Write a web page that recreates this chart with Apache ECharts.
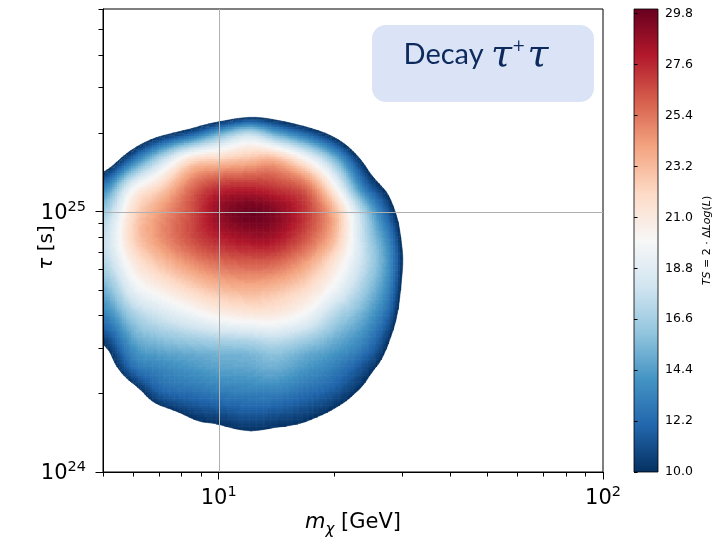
<!DOCTYPE html>
<html>
<head>
<meta charset="utf-8">
<script src="https://cdn.jsdelivr.net/npm/echarts@6/dist/echarts.min.js"></script>
<style>
html,body{margin:0;padding:0;background:#fff;}
#chart{width:712px;height:538px;}
</style>
</head>
<body>
<div id="chart"></div>
<script>
// ---------------- data ----------------
// dark-matter mass grid [GeV] (columns)
const massGeV = [5, 6, 7, 8.5, 10, 12, 14, 17, 20, 24, 28, 33];
// lifetime grid [s] (rows, bottom to top)
const lifetimeS = [1.2e24, 1.5e24, 2e24, 2.5e24, 3e24, 4e24, 5e24, 6.5e24, 8e24, 1e25, 1.25e25, 1.6e25, 2e25, 2.5e25, 3e25];
// TS = 2·ΔLog(L), one row per lifetime, one value per mass (values below 10 are not drawn)
const tsRows = [
  [-0.4, 3.5, 5.8, 7.2, 7.7, 7.9, 7.75, 7.2, 5.8, 3.8, 0.2, -2.6],
  [-0.3, 5.3, 7.0, 9.3, 9.86, 10.5, 10.15, 9.6, 8.3, 6.0, 2.95, -2.6],
  [4.0, 8.5, 11.5, 12.3, 12.8, 13, 13, 12.2, 11.3, 9.1, 5.5, 0.9],
  [7.9, 12.2, 13.3, 14, 14.5, 14.7, 15, 14, 13, 11, 8.0, 2.9],
  [9.7, 14, 15, 15.5, 15.8, 16, 16.5, 15.5, 14.5, 12.8, 9.35, 3.0],
  [13, 16.5, 18, 19.3, 20.3, 20.8, 20.8, 19.5, 17, 14.8, 11.5, 4.65],
  [15, 19, 20.5, 22, 23, 23.4, 23, 21.7, 19.5, 16.3, 12.8, 5.2],
  [17, 21, 23, 24.8, 25.8, 26.2, 26, 24.2, 21.4, 17.5, 13.5, 6.1],
  [17.5, 22.3, 24.5, 26.5, 27.8, 28.5, 28.3, 26.2, 23.2, 17.3, 12.8, 5.5],
  [16.3, 21.8, 24.2, 26.5, 28.8, 29.8, 29.2, 27, 23.4, 16.5, 11, 5.4],
  [13, 19.5, 22, 25.5, 27.2, 27.5, 27, 25.5, 20.3, 12.7, 8.6, 3],
  [7, 12.5, 17, 21.5, 22.3, 23, 23.3, 20, 15.5, 9.0, 4.7, 0.4],
  [2.4, 6.0, 8.8, 11.8, 15, 17.5, 15, 12, 8.8, 3.8, -0.6, -6],
  [-2.7, -0.3, -0.8, 2.2, 3.65, 5.5, 5.6, 3.7, 1.7, -2.8, -6, -10],
  [-12, -10, -8.8, -5.8, -5.5, -3.4, -2.5, -3, -4, -8, -12, -15]
];
// axis ranges and ticks
const xRange = [5, 100];
const yRange = [1e24, 6e25];
const majorX = [10, 100];
const minorX = [5, 6, 7, 8, 9, 20, 30, 40, 50, 60, 70, 80, 90];
const majorY = [1e24, 1e25];
const minorY = [2e24, 3e24, 4e24, 5e24, 6e24, 7e24, 8e24, 9e24, 2e25, 3e25, 4e25, 5e25, 6e25];
const colorbarRange = [10, 30];
const colorbarTicks = [10.0, 12.2, 14.4, 16.6, 18.8, 21.0, 23.2, 25.4, 27.6, 29.8];

// ---------------- colour map (RdBu_r) ----------------
const RDBU_R = ['#053061','#2166ac','#4393c3','#92c5de','#d1e5f0','#f7f7f7','#fddbc7','#f4a582','#d6604d','#b2182b','#67001f'];
const LEVEL_MIN = 10, LEVEL_MAX = 30, LEVEL_STEP = 0.2;
function hexToRgb(h){return [parseInt(h.slice(1,3),16),parseInt(h.slice(3,5),16),parseInt(h.slice(5,7),16)];}
const STOPS = RDBU_R.map(hexToRgb);
function cmap(t){
  t = Math.max(0, Math.min(1, t));
  const s = t * (STOPS.length - 1);
  let i = Math.floor(s); if (i >= STOPS.length - 1) i = STOPS.length - 2;
  const f = s - i, a = STOPS[i], b = STOPS[i + 1];
  return 'rgb(' + Math.round(a[0] + (b[0]-a[0])*f) + ',' + Math.round(a[1] + (b[1]-a[1])*f) + ',' + Math.round(a[2] + (b[2]-a[2])*f) + ')';
}
const NB = Math.round((LEVEL_MAX - LEVEL_MIN) / LEVEL_STEP);
const bandColors = [];
for (let k = 0; k < NB; k++) bandColors.push(cmap((k + 0.5) / NB));
function colorFor(v){
  let k = Math.floor((v - LEVEL_MIN) / LEVEL_STEP + 1e-9);
  k = Math.max(0, Math.min(NB - 1, k));
  return bandColors[k];
}

// ---------------- smooth (Catmull-Rom) rendering of the TS grid ----------------
const NR = tsRows.length, NC = massGeV.length;
function tsNode(r, c){
  r = Math.max(0, Math.min(NR - 1, r));
  c = Math.max(0, Math.min(NC - 1, c));
  return tsRows[r][c];
}
function cr(p0, p1, p2, p3, t){
  return 0.5 * (2*p1 + (-p0 + p2)*t + (2*p0 - 5*p1 + 4*p2 - p3)*t*t + (-p0 + 3*p1 - 3*p2 + p3)*t*t*t);
}
function tsSmooth(c, r, u, w){
  const col = [];
  for (let dr = -1; dr <= 2; dr++) {
    col.push(cr(tsNode(r+dr, c-1), tsNode(r+dr, c), tsNode(r+dr, c+1), tsNode(r+dr, c+2), u));
  }
  return cr(col[0], col[1], col[2], col[3], w);
}

// one item per grid cell: [m0, m1, tau0, tau1, colIndex, rowIndex]
const cells = [];
for (let r = 0; r < NR - 1; r++) {
  for (let c = 0; c < NC - 1; c++) {
    cells.push([massGeV[c], massGeV[c+1], lifetimeS[r], lifetimeS[r+1], c, r]);
  }
}
const SUB_PX = 2.5;
function renderCell(params, api){
  const x0 = api.value(0), x1 = api.value(1), y0 = api.value(2), y1 = api.value(3);
  const c = api.value(4), r = api.value(5);
  const pA = api.coord([x0, y0]), pB = api.coord([x1, y1]);
  const W = pB[0] - pA[0], H = pB[1] - pA[1];
  const nx = Math.max(1, Math.ceil(Math.abs(W) / SUB_PX));
  const ny = Math.max(1, Math.ceil(Math.abs(H) / SUB_PX));
  const val = [];
  let vmax = -Infinity;
  for (let i = 0; i <= nx; i++) {
    val.push([]);
    for (let j = 0; j <= ny; j++) { const s = tsSmooth(c, r, i/nx, j/ny); val[i].push(s); if (s > vmax) vmax = s; }
  }
  if (vmax < LEVEL_MIN) return null;
  const children = [];
  for (let i = 0; i < nx; i++) {
    for (let j = 0; j < ny; j++) {
      const u0 = i/nx, u1 = (i+1)/nx, w0 = j/ny, w1 = (j+1)/ny;
      const q = [[u0,w0],[u1,w0],[u1,w1],[u0,w1]];
      const qv = [val[i][j], val[i+1][j], val[i+1][j+1], val[i][j+1]];
      let nIn = 0; qv.forEach(x => { if (x >= LEVEL_MIN) nIn++; });
      if (nIn === 0) continue;
      const vc = (qv[0] + qv[1] + qv[2] + qv[3]) / 4;
      if (nIn === 4) {
        children.push({type:'rect', shape:{x: pA[0] + u0*W, y: pA[1] + w1*H, width: W/nx + 0.6, height: -H/ny + 0.6},
          style:{fill: colorFor(vc)}});
      } else {
        const pts = [];
        for (let k = 0; k < 4; k++) {
          const P = q[k], Q = q[(k+1)%4], vp = qv[k], vq = qv[(k+1)%4];
          if (vp >= LEVEL_MIN) pts.push([pA[0] + P[0]*W, pA[1] + P[1]*H]);
          if ((vp >= LEVEL_MIN) !== (vq >= LEVEL_MIN)) {
            const t = (LEVEL_MIN - vp) / (vq - vp);
            const uu = P[0] + t*(Q[0]-P[0]), ww = P[1] + t*(Q[1]-P[1]);
            pts.push([pA[0] + uu*W, pA[1] + ww*H]);
          }
        }
        const col = colorFor(Math.max(vc, LEVEL_MIN));
        children.push({type:'polygon', shape:{points: pts}, style:{fill: col, stroke: col, lineWidth: 0.5}});
      }
    }
  }
  return {type:'group', children: children};
}

// ---------------- styles ----------------
const FONT = 'DejaVu Sans';
const supRich = {
  b: {fontFamily: FONT, fontSize: 21, color: '#000', verticalAlign: 'bottom'},
  s: {fontFamily: FONT, fontSize: 14.5, color: '#000', verticalAlign: 'bottom', padding: [0, 0, 9, 0]}
};
const powLabel = v => '{b|10}{s|' + Math.round(Math.log10(v)) + '}';

const chart = echarts.init(document.getElementById('chart'), null, {renderer: 'canvas'});
chart.setOption({
  animation: false,
  backgroundColor: '#fff',
  textStyle: {fontFamily: FONT},
  grid: [
    {left: 103, top: 9, width: 500, height: 463, show: true, borderColor: '#000', borderWidth: 1, backgroundColor: 'transparent', outerBoundsMode: 'none'},
    {left: 634, top: 9, width: 24, height: 463, show: false, outerBoundsMode: 'none'}
  ],
  xAxis: [
    {type: 'log', gridIndex: 0, min: xRange[0], max: xRange[1], position: 'bottom', z: 10,
     axisLine: {show: true, onZero: false, lineStyle: {color: '#000', width: 1}},
     axisTick: {show: true, customValues: majorX, length: 7.5, lineStyle: {color: '#000', width: 1}},
     axisLabel: {show: true, customValues: majorX, formatter: powLabel, rich: supRich, margin: 13},
     splitLine: {show: false}, minorTick: {show: false},
     name: '{i|m}{sub|χ}{n| [GeV]}', nameLocation: 'middle', nameGap: 40, nameMoveOverlap: false,
     nameTextStyle: {rich: {
       i: {fontFamily: FONT, fontStyle: 'italic', fontSize: 21, color: '#000', verticalAlign: 'bottom', padding: [0,0,5,0]},
       sub: {fontFamily: FONT, fontStyle: 'italic', fontSize: 15, color: '#000', verticalAlign: 'bottom'},
       n: {fontFamily: FONT, fontSize: 21, color: '#000', verticalAlign: 'bottom', padding: [0,0,5,0]}
     }}},
    {type: 'log', gridIndex: 0, min: xRange[0], max: xRange[1], position: 'bottom', z: 10,
     axisLine: {show: false},
     axisTick: {show: true, customValues: minorX, length: 4.5, lineStyle: {color: '#000', width: 1}},
     axisLabel: {show: false}, splitLine: {show: false}},
    {type: 'value', gridIndex: 1, min: 0, max: 1, show: false}
  ],
  yAxis: [
    {type: 'log', gridIndex: 0, min: yRange[0], max: yRange[1], position: 'left', z: 10,
     axisLine: {show: true, onZero: false, lineStyle: {color: '#000', width: 1}},
     axisTick: {show: true, customValues: majorY, length: 7.5, lineStyle: {color: '#000', width: 1}},
     axisLabel: {show: true, customValues: majorY, formatter: powLabel, rich: supRich, margin: 17},
     splitLine: {show: false}, minorTick: {show: false},
     name: '{i|τ}{n| [s]}', nameLocation: 'middle', nameGap: 46, nameRotate: 90, nameMoveOverlap: false,
     nameTextStyle: {rich: {
       i: {fontFamily: FONT, fontStyle: 'italic', fontSize: 20, color: '#000'},
       n: {fontFamily: FONT, fontSize: 20, color: '#000', padding: [0, 14, 0, 0]}
     }}},
    {type: 'log', gridIndex: 0, min: yRange[0], max: yRange[1], position: 'left', z: 10,
     axisLine: {show: false},
     axisTick: {show: true, customValues: minorY, length: 4.5, lineStyle: {color: '#000', width: 1}},
     axisLabel: {show: false}, splitLine: {show: false}},
    {type: 'value', gridIndex: 1, min: colorbarRange[0], max: colorbarRange[1], position: 'right', z: 10,
     axisLine: {show: false},
     axisTick: {show: true, customValues: colorbarTicks, length: 3.5, lineStyle: {color: '#000', width: 1}},
     axisLabel: {show: true, customValues: colorbarTicks, formatter: v => Number(v).toFixed(1), fontFamily: FONT, fontSize: 12.5, color: '#000', margin: 7},
     splitLine: {show: false},
     name: '{i|TS}{n| = 2 · Δ}{i|Log}{n|(}{i|L}{n|)}', nameLocation: 'middle', nameGap: 44, nameRotate: 90,
     nameTextStyle: {rich: {
       i: {fontFamily: FONT, fontStyle: 'italic', fontSize: 11, color: '#000'},
       n: {fontFamily: FONT, fontSize: 11, color: '#000'}
     }}}
  ],
  graphic: [{
    type: 'group', left: 372, top: 25, z: 100,
    children: [
      {type: 'rect', shape: {x: 0, y: 0, width: 222, height: 77, r: 14}, style: {fill: '#dbe4f6'}},
      {type: 'text', x: 104, y: 31, style: {
        text: '{d|Decay }{t|τ}{p|+}{t|τ}', align: 'center', verticalAlign: 'middle',
        rich: {
          d: {fontFamily: 'Lato', fontSize: 29, fill: '#0c2a5c', verticalAlign: 'bottom', padding: [0, 0, 6, 0]},
          t: {fontFamily: 'DejaVu Serif', fontStyle: 'italic', fontSize: 38, fill: '#0c2a5c', verticalAlign: 'bottom'},
          p: {fontFamily: 'DejaVu Serif', fontSize: 16, fill: '#0c2a5c', verticalAlign: 'bottom', padding: [0, 2, 20, 0]}
        }}}
    ]
  }],
  series: [
    {type: 'custom', name: 'TS', xAxisIndex: 0, yAxisIndex: 0, z: 2, silent: true, clip: true,
     data: cells, encode: {x: [0, 1], y: [2, 3]}, renderItem: renderCell},
    {type: 'custom', name: 'gridX', xAxisIndex: 0, yAxisIndex: 0, z: 4, silent: true,
     data: majorX.filter(x => x > xRange[0] && x < xRange[1]).map(x => [x, yRange[0]]), encode: {x: 0, y: 1},
     renderItem: function(params, api){
       const cs = params.coordSys; const p = api.coord([api.value(0), api.value(1)]);
       const x = Math.round(p[0]) + 0.5;
       return {type: 'line', shape: {x1: x, y1: cs.y, x2: x, y2: cs.y + cs.height}, style: {stroke: '#b0b0b0', lineWidth: 1}};
     }},
    {type: 'custom', name: 'gridY', xAxisIndex: 0, yAxisIndex: 0, z: 4, silent: true,
     data: majorY.filter(y => y > yRange[0] && y < yRange[1]).map(y => [xRange[0], y]), encode: {x: 0, y: 1},
     renderItem: function(params, api){
       const cs = params.coordSys; const p = api.coord([api.value(0), api.value(1)]);
       const y = Math.round(p[1]) + 0.5;
       return {type: 'line', shape: {x1: cs.x, y1: y, x2: cs.x + cs.width, y2: y}, style: {stroke: '#b0b0b0', lineWidth: 1}};
     }},
    {type: 'custom', name: 'colorbar', xAxisIndex: 2, yAxisIndex: 2, z: 2, silent: true,
     data: [[0, colorbarRange[0], 1, colorbarRange[1]]], encode: {x: [0, 2], y: [1, 3]},
     renderItem: function(params, api){
       const p0 = api.coord([api.value(0), api.value(1)]);
       const p1 = api.coord([api.value(2), api.value(3)]);
       return {type: 'rect', shape: {x: p0[0], y: p1[1], width: p1[0] - p0[0], height: p0[1] - p1[1]},
         style: {fill: {type: 'linear', x: 0, y: 1, x2: 0, y2: 0,
           colorStops: RDBU_R.map((c, i) => ({offset: i / (RDBU_R.length - 1), color: c}))},
           stroke: '#000', lineWidth: 0.8}};
     }}
  ]
});
</script>
</body>
</html>
